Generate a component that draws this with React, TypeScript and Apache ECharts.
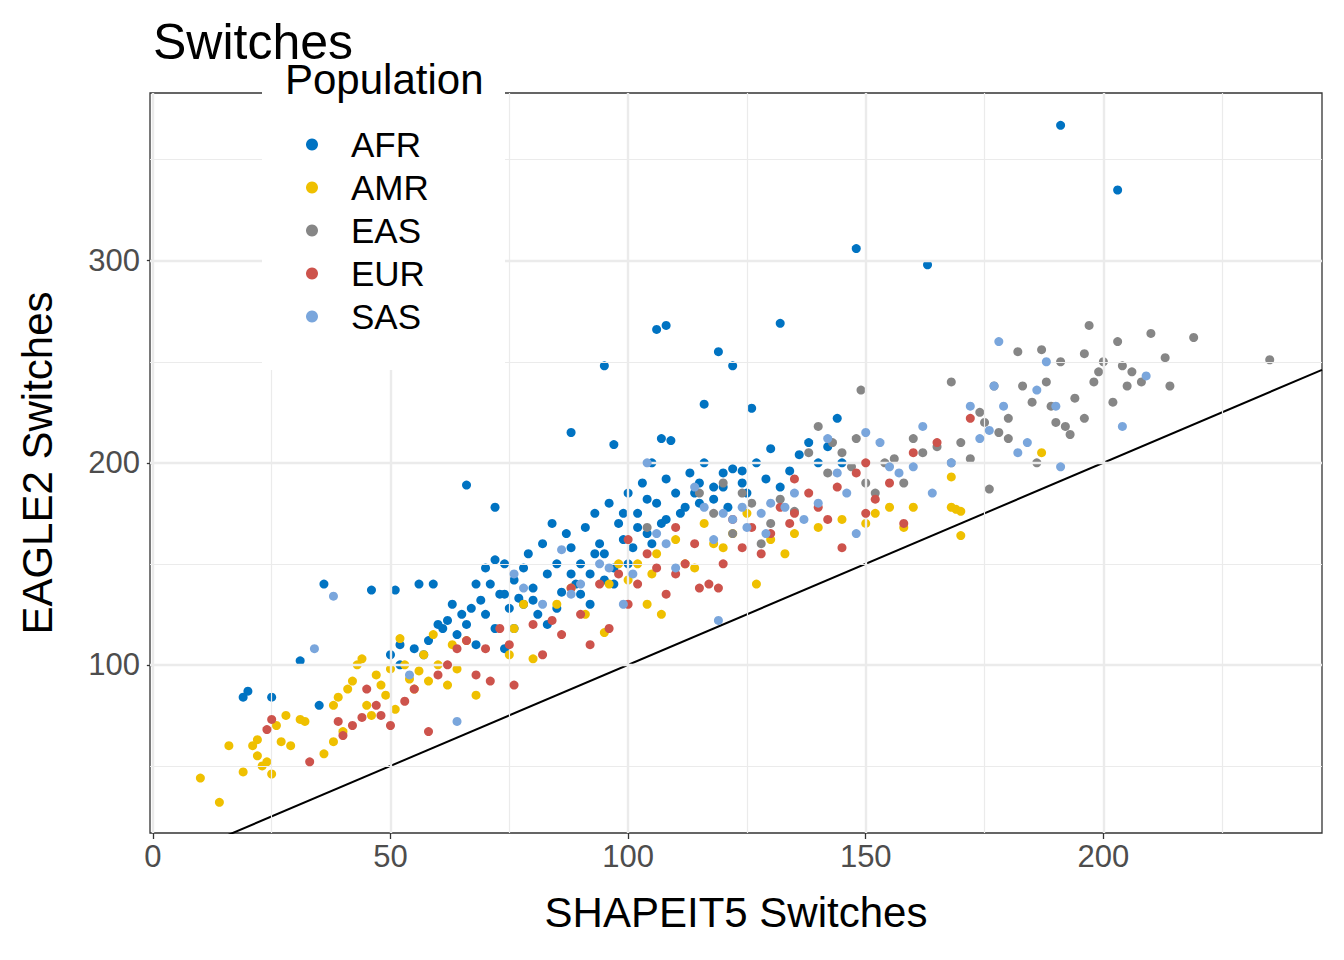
import { useEffect, useRef } from "react";
import * as echarts from "echarts";

const populations = ["AFR", "AMR", "EAS", "EUR", "SAS"];
const colors = ["#0073C2", "#EFC000", "#868686", "#CD534C", "#7AA6DC"];

const afr = [
  [191, 367], [203, 335], [148, 306], [163, 298], [132, 269], [106, 266], [108, 268], [95, 248],
  [119, 255], [122, 248], [116, 229], [126, 227], [88, 215], [97, 209], [107, 212], [109, 211],
  [144, 222], [66, 189], [72, 178], [19, 84], [20, 87], [25, 84], [31, 102], [36, 140], [46, 137],
  [51, 137], [56, 140], [59, 140], [35, 80],
  [64, 115], [66, 120], [67, 128], [68, 110], [69, 132], [70, 125], [71, 140], [72, 118], [73, 135],
  [74, 150], [75, 128], [76, 142], [77, 133], [78, 148], [79, 155], [80, 138], [81, 125], [82, 160],
  [83, 145], [84, 170], [85, 150], [86, 136], [87, 165], [88, 158], [89, 140], [90, 150], [91, 168],
  [92, 145], [93, 175], [94, 160], [95, 155], [96, 180], [97, 148], [98, 170], [99, 162], [100, 185],
  [101, 158], [102, 175], [103, 190], [104, 165], [105, 200], [106, 180], [107, 170], [108, 192],
  [110, 185], [111, 175], [113, 195], [115, 180], [116, 200], [118, 188], [120, 195], [121, 178],
  [122, 197], [124, 190], [125, 185], [127, 200], [129, 192], [130, 207], [132, 188], [134, 196],
  [136, 204], [138, 210], [140, 200], [142, 208], [145, 200], [63, 130], [62, 122], [61, 118],
  [58, 112], [55, 108], [52, 110], [50, 105], [52, 100], [57, 105], [60, 120], [65, 125], [68, 140],
  [70, 148], [72, 152], [74, 108], [76, 118], [78, 130], [80, 132], [83, 120], [85, 128], [90, 135],
  [92, 130], [95, 142], [97, 140], [100, 150], [102, 168], [105, 160], [108, 172], [112, 178],
  [115, 190], [118, 182], [124, 196], [74, 135], [88, 145], [93, 155], [99, 175], [104, 182],
  [114, 185], [120, 188],
];

const amr = [
  [10, 44], [14, 32], [16, 60], [19, 47], [21, 60], [22, 63], [22, 55], [23, 50], [24, 52], [25, 46],
  [26, 70], [27, 62], [28, 75], [29, 60], [31, 73], [32, 72], [36, 56], [38, 62], [38, 80], [39, 84],
  [40, 67], [41, 88], [42, 92], [43, 100], [44, 103], [45, 80], [46, 75], [47, 95], [48, 90], [49, 85],
  [50, 98], [51, 78], [52, 113], [53, 100], [54, 93], [55, 88], [56, 97], [57, 105], [58, 92],
  [59, 115], [60, 100], [62, 90], [63, 110], [64, 98], [66, 112], [68, 85], [75, 105], [76, 118],
  [78, 130], [80, 103], [85, 130], [88, 138], [91, 125], [95, 116], [96, 140], [98, 150], [100, 142],
  [102, 150], [104, 130], [105, 145], [106, 155], [107, 125], [110, 162], [112, 150], [114, 148],
  [116, 170], [118, 160], [120, 158], [122, 165], [125, 175], [127, 140], [130, 162], [133, 155],
  [135, 165], [140, 168], [145, 172], [150, 170], [152, 175], [155, 178], [158, 168], [160, 178],
  [168, 178], [169, 177], [170, 176], [170, 164], [168, 193], [187, 205],
];

const eas = [
  [104, 168], [115, 185], [118, 175], [120, 190], [122, 165], [124, 185], [126, 180], [128, 160],
  [130, 170], [132, 182], [135, 176], [138, 205], [140, 218], [142, 195], [143, 210], [145, 205],
  [147, 198], [148, 212], [149, 236], [150, 190], [152, 185], [154, 200], [156, 202], [158, 190],
  [160, 212], [162, 205], [165, 208], [168, 200], [168, 240], [170, 210], [172, 202], [174, 225],
  [175, 220], [176, 187], [177, 238], [178, 215], [180, 222], [182, 255], [183, 238], [185, 230],
  [187, 256], [188, 240], [189, 228], [190, 220], [191, 250], [192, 218], [193, 214], [194, 232],
  [196, 254], [197, 268], [198, 240], [199, 245], [200, 250], [202, 230], [203, 260], [204, 248],
  [205, 238], [206, 245], [208, 240], [210, 264], [213, 252], [214, 238], [219, 262], [235, 251],
  [196, 222], [186, 200], [180, 212],
];

const eur = [
  [24, 68], [25, 73], [33, 52], [39, 72], [40, 65], [42, 70], [44, 74], [45, 88], [47, 80], [48, 75],
  [50, 70], [53, 82], [55, 88], [58, 67], [60, 95], [62, 100], [64, 108], [66, 112], [68, 95],
  [70, 108], [71, 92], [73, 118], [75, 110], [76, 90], [80, 120], [82, 105], [84, 122], [86, 115],
  [88, 138], [90, 125], [92, 110], [94, 140], [96, 118], [98, 145], [100, 130], [102, 140],
  [104, 155], [106, 148], [108, 135], [110, 145], [112, 150], [114, 160], [115, 138], [117, 140],
  [119, 138], [120, 150], [122, 172], [124, 158], [126, 168], [128, 155], [130, 165], [132, 178],
  [134, 170], [135, 192], [138, 185], [140, 178], [142, 172], [144, 188], [145, 158], [148, 195],
  [150, 200], [152, 182], [155, 190], [158, 170], [160, 205], [165, 210], [172, 222], [150, 175],
  [135, 175], [110, 168], [100, 162],
];

const sas = [
  [34, 108], [38, 134], [54, 95], [64, 72], [76, 145], [78, 138], [82, 130], [86, 157], [88, 135],
  [90, 140], [94, 150], [96, 148], [99, 130], [101, 145], [104, 200], [106, 165], [108, 160],
  [110, 148], [114, 188], [116, 178], [118, 162], [120, 175], [122, 172], [124, 178], [125, 168],
  [128, 175], [129, 165], [130, 180], [133, 178], [135, 185], [137, 172], [140, 180], [142, 212],
  [144, 195], [146, 185], [148, 165], [150, 215], [153, 210], [155, 198], [157, 195], [160, 198],
  [162, 218], [164, 185], [168, 200], [172, 228], [174, 212], [176, 216], [177, 238], [178, 260],
  [179, 228], [182, 205], [184, 210], [186, 236], [188, 250], [190, 228], [191, 198], [204, 218],
  [209, 243], [119, 122],
];

const groups = [afr, amr, eas, eur, sas];
const majorX = [0, 50, 100, 150, 200];
const minorX = [25, 75, 125, 175, 225];
const majorY = [100, 200, 300];
const minorY = [50, 150, 250, 350];

export default function App() {
  const ref = useRef<HTMLDivElement>(null);

  useEffect(() => {
    if (!ref.current) return;
    const chart = echarts.init(ref.current, null, { renderer: "svg" });
    const grid = (vals: number[], axis: "xAxis" | "yAxis", width: number) =>
      vals.map((v) => ({ [axis]: v, lineStyle: { color: "#EBEBEB", width, type: "solid" } }));

    chart.setOption({
      animation: false,
      textStyle: { fontFamily: "Liberation Sans, Arial, sans-serif" },
      title: {
        text: "Switches",
        left: 148,
        top: 12,
        textStyle: { fontSize: 50, fontWeight: "normal", color: "#000" },
      },
      grid: {
        left: 150,
        right: 22,
        top: 93,
        bottom: 127,
        show: true,
        borderColor: "#333",
        borderWidth: 1.3,
      },
      xAxis: {
        type: "value",
        min: -0.6,
        max: 246,
        name: "SHAPEIT5 Switches",
        nameLocation: "middle",
        nameGap: 58,
        nameTextStyle: { fontSize: 42, color: "#000" },
        axisLine: { show: false },
        splitLine: { show: false },
        axisTick: { show: true, customValues: majorX, length: 6, lineStyle: { color: "#333", width: 1.3 } },
        axisLabel: { customValues: majorX, fontSize: 31, color: "#4D4D4D", margin: 8 },
      },
      yAxis: {
        type: "value",
        min: 16.8,
        max: 383,
        name: "EAGLE2 Switches",
        nameLocation: "middle",
        nameGap: 92,
        nameTextStyle: { fontSize: 42, color: "#000" },
        axisLine: { show: false },
        splitLine: { show: false },
        axisTick: { show: true, customValues: majorY, length: 6, lineStyle: { color: "#333", width: 1.3 } },
        axisLabel: { customValues: majorY, fontSize: 31, color: "#4D4D4D", margin: 10 },
      },
      legend: {
        orient: "vertical",
        left: 301,
        top: 122,
        z: 20,
        itemWidth: 12,
        itemHeight: 12,
        itemGap: 8,
        icon: "circle",
        data: populations,
        textStyle: { fontSize: 35, color: "#000", padding: [0, 0, 0, 28] },
      },
      graphic: [
        { type: "rect", z: 15, shape: { x: 262, y: 60, width: 243, height: 310 }, style: { fill: "#fff" } },
        {
          type: "text",
          z: 16,
          x: 285,
          y: 58,
          style: { text: "Population", fontSize: 42, fill: "#000", fontFamily: "Liberation Sans, Arial, sans-serif" },
        },
      ],
      series: [
        {
          type: "line",
          data: [],
          silent: true,
          z: 0,
          markLine: {
            silent: true,
            symbol: "none",
            label: { show: false },
            animation: false,
            data: [
              ...grid(minorX, "xAxis", 1.2),
              ...grid(minorY, "yAxis", 1.2),
              ...grid(majorX, "xAxis", 2.4),
              ...grid(majorY, "yAxis", 2.4),
            ],
          },
        },
        {
          type: "line",
          data: [[0, 0], [246, 246]],
          showSymbol: false,
          silent: true,
          lineStyle: { color: "#000", width: 2 },
          z: 1,
        },
        ...populations.map((name, i) => ({
          name,
          type: "scatter",
          data: groups[i],
          symbolSize: 9,
          itemStyle: { color: colors[i], opacity: 1 },
          z: 2 + i,
        })),
      ],
    });
    return () => chart.dispose();
  }, []);

  return <div ref={ref} style={{ width: 1344, height: 960, position: "absolute", left: 0, top: 0 }} />;
}
